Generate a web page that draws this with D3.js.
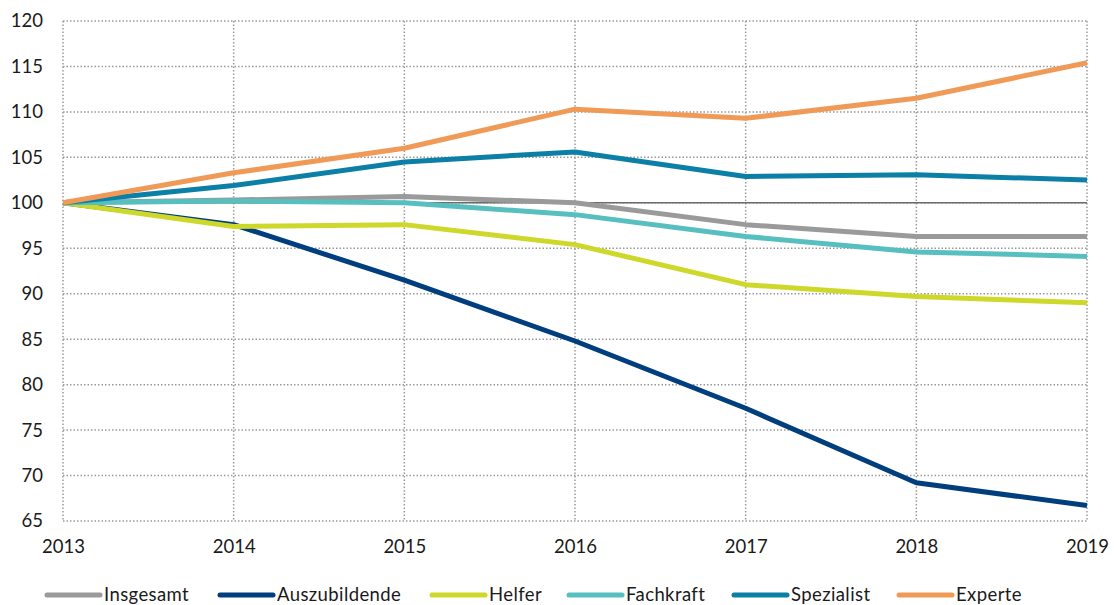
<!DOCTYPE html>
<html>
<head>
<meta charset="utf-8">
<script src="https://cdn.jsdelivr.net/npm/d3@7"></script>
<style>
  body { margin: 0; background: #fff; }
  text { font-family: Lato, "Open Sans", sans-serif; fill: #1a1a1a; }
</style>
</head>
<body>
<div id="chart"></div>
<script>
const years = [2013, 2014, 2015, 2016, 2017, 2018, 2019];
const yTicks = [65, 70, 75, 80, 85, 90, 95, 100, 105, 110, 115, 120];

const insgesamt     = [100, 100.3, 100.7, 100.0, 97.6, 96.3, 96.3];
const auszubildende = [100, 97.6, 91.5, 84.8, 77.4, 69.2, 66.7];
const helfer        = [100, 97.4, 97.6, 95.4, 91.0, 89.7, 89.0];
const fachkraft     = [100, 100.2, 100.0, 98.7, 96.3, 94.6, 94.1];
const spezialist    = [100, 101.9, 104.5, 105.6, 102.9, 103.1, 102.5];
const experte       = [100, 103.3, 106.0, 110.3, 109.3, 111.5, 115.4];

const seriesNames  = ["Insgesamt", "Auszubildende", "Helfer", "Fachkraft", "Spezialist", "Experte"];
const seriesValues = [insgesamt, auszubildende, helfer, fachkraft, spezialist, experte];
const colors = ["#9a9a9a", "#003e7e", "#cdd82b", "#57bfbf", "#0b7fa6", "#f09a58"];

const W = 1114, H = 605;
const margin = {top: 21, right: 27, bottom: 84, left: 63};

const svg = d3.select("#chart").append("svg")
    .attr("width", W)
    .attr("height", H);

const x = d3.scaleLinear()
    .domain([2013, 2019])
    .range([margin.left, W - margin.right]);

const y = d3.scaleLinear()
    .domain([65, 120])
    .range([H - margin.bottom, margin.top]);

// gridlines (dotted)
const grid = svg.append("g");
grid.selectAll(".hgrid")
    .data(yTicks)
    .enter()
    .append("line")
    .attr("x1", x(2013))
    .attr("x2", x(2019))
    .attr("y1", d => y(d))
    .attr("y2", d => y(d))
    .attr("stroke", "#9a9a9a")
    .attr("stroke-width", 1.5)
    .attr("stroke-dasharray", "1.5,2");

grid.selectAll(".vgrid")
    .data(years)
    .enter()
    .append("line")
    .attr("x1", d => x(d))
    .attr("x2", d => x(d))
    .attr("y1", y(120))
    .attr("y2", y(65))
    .attr("stroke", "#9a9a9a")
    .attr("stroke-width", 1.5)
    .attr("stroke-dasharray", "1.5,2");

// y axis labels
const yAxis = d3.axisLeft(y).tickValues(yTicks).tickSize(0).tickPadding(20);
svg.append("g")
    .attr("transform", `translate(${margin.left},0)`)
    .call(yAxis)
    .call(g => g.select(".domain").remove())
    .call(g => g.selectAll("text")
        .style("font-size", "18.5px")
        .style("font-family", "Lato, 'Open Sans', sans-serif")
        .attr("fill", "#1a1a1a"));

// x axis labels
const xAxis = d3.axisBottom(x).tickValues(years).tickFormat(d3.format("d")).tickSize(0).tickPadding(19);
svg.append("g")
    .attr("transform", `translate(0,${y(65)})`)
    .call(xAxis)
    .call(g => g.select(".domain").remove())
    .call(g => g.selectAll("text")
        .style("font-size", "18.5px")
        .style("font-family", "Lato, 'Open Sans', sans-serif")
        .attr("fill", "#1a1a1a"));

// reference line at 100
svg.append("line")
    .attr("x1", x(2013))
    .attr("x2", x(2019))
    .attr("y1", y(100))
    .attr("y2", y(100))
    .attr("stroke", "#6b6b6b")
    .attr("stroke-width", 1.5);

const line = d3.line()
    .x((d, i) => x(years[i]))
    .y(d => y(d));

svg.append("g")
    .selectAll("path")
    .data(seriesValues)
    .enter()
    .append("path")
    .attr("d", d => line(d))
    .attr("fill", "none")
    .attr("stroke", (d, i) => colors[i])
    .attr("stroke-width", 5)
    .attr("stroke-linejoin", "round");

// legend (sits at the very bottom edge, as in the original)
const legendX = [47, 220, 432, 569, 734, 899];
const legend = svg.append("g");
const items = legend.selectAll("g")
    .data(seriesNames)
    .enter()
    .append("g")
    .attr("transform", (d, i) => `translate(${legendX[i]},595)`);

items.append("line")
    .attr("x1", 0)
    .attr("x2", 53)
    .attr("y1", 0)
    .attr("y2", 0)
    .attr("stroke", (d, i) => colors[i])
    .attr("stroke-width", 5)
    .attr("stroke-linecap", "round");

items.append("text")
    .attr("x", 57)
    .attr("y", 6)
    .style("font-size", "18.5px")
    .style("letter-spacing", "0.4px")
    .text(d => d);
</script>
</body>
</html>
